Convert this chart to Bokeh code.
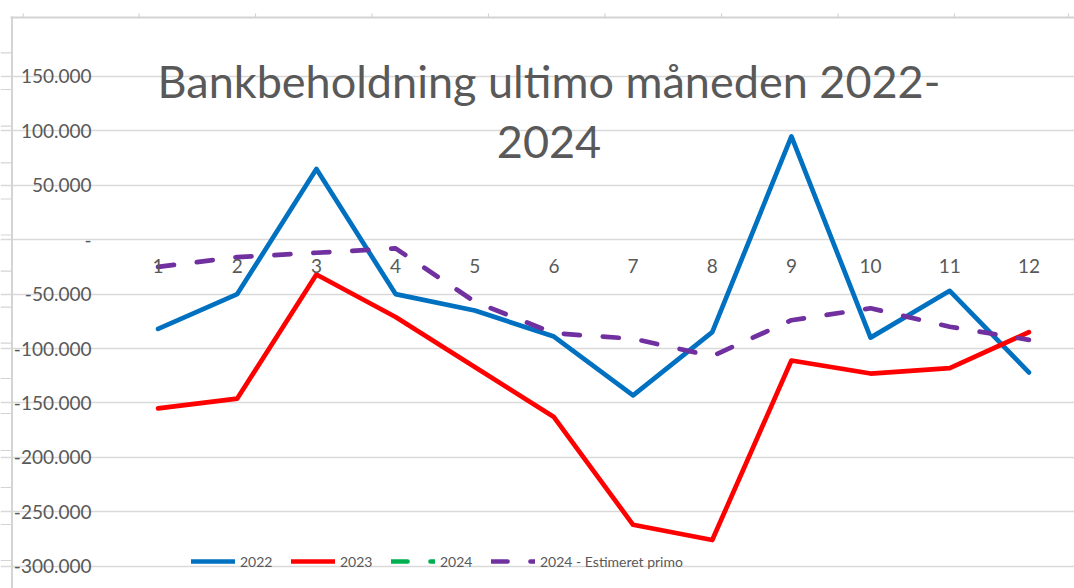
import numpy as np
from bokeh.plotting import figure
from bokeh.models import Range1d, FixedTicker, Legend, LegendItem, Label, BoxAnnotation, LinearAxis
from bokeh.embed import file_html
from bokeh.resources import INLINE

# ---- data ----
months = [1, 2, 3, 4, 5, 6, 7, 8, 9, 10, 11, 12]
month_labels = ["1", "2", "3", "4", "5", "6", "7", "8", "9", "10", "11", "12"]
v2022 = [-82000, -50000, 65000, -50000, -65000, -89000, -143000, -85000, 95000, -90000, -47000, -122000]
v2023 = [-155000, -146000, -32000, -71000, -117000, -163000, -262000, -276000, -111000, -123000, -118000, -85000]
v2024 = [None, None, None, None, None, None, None, None, None, None, None, None]
v2024_est = [-25000, -16000, -12000, -8000, -57000, -86000, -91000, -107000, -74000, -63000, -80000, -92000]
series_names = ["2022", "2023", "2024", "2024 - Estimeret primo"]
y_ticks = [150000, 100000, 50000, 0, -50000, -100000, -150000, -200000, -250000, -300000]
y_tick_labels = ["150.000", "100.000", "50.000", "-", "-50.000", "-100.000", "-150.000",
                 "-200.000", "-250.000", "-300.000"]
title_lines = ["Bankbeholdning ultimo måneden 2022-", "2024"]

TXT = "#595959"
FONT = "Lato"
W, H = 1074, 588

p = figure(width=W, height=H, output_backend="svg", toolbar_location=None,
           x_range=Range1d(-0.9905, 12.5758), y_range=Range1d(-320530, 219810),
           x_axis_location=None, y_axis_location=None,
           min_border_left=0, min_border_right=0, min_border_top=0, min_border_bottom=0)
p.outline_line_color = None

# y axis drawn at the left edge of the category area
ya = LinearAxis(fixed_location=0.5, ticker=FixedTicker(ticks=y_ticks),
                major_label_overrides=dict(zip(y_ticks, y_tick_labels)),
                axis_line_color=None, major_tick_line_color=None, minor_tick_line_color=None,
                major_tick_out=0, major_tick_in=0, major_label_standoff=27,
                major_label_text_font=FONT, major_label_text_font_size="19px",
                major_label_text_color=TXT)
p.add_layout(ya, "left")

# category axis crossing at zero
xa = LinearAxis(fixed_location=0, ticker=FixedTicker(ticks=months),
                major_label_overrides=dict(zip(months, month_labels)),
                axis_line_color=None, major_tick_line_color=None, minor_tick_line_color=None,
                major_tick_out=0, major_tick_in=0, major_label_standoff=19,
                major_label_text_font=FONT, major_label_text_font_size="19px",
                major_label_text_color=TXT)
p.add_layout(xa, "below")

p.xgrid.visible = False
p.ygrid.ticker = FixedTicker(ticks=y_ticks)
p.ygrid.bounds = (0.5, 12.5)
p.ygrid.grid_line_color = "#d9d9d9"
p.ygrid.grid_line_width = 1.4

# spreadsheet cell borders around the chart
def box(l, r, t, b):
    p.add_layout(BoxAnnotation(left=l, right=r, top=H - t, bottom=H - b,
                               left_units="screen", right_units="screen", top_units="screen",
                               bottom_units="screen", fill_color="#d4d4d4", fill_alpha=1,
                               line_color=None, level="underlay"))

box(10.5, 12.5, 16, H)
box(10, W, 16, 18)
for cx in [22.7, 138.5, 255, 371.5, 488, 604.5, 721, 837.5, 954, 1068]:
    box(cx - 0.6, cx + 0.6, 13, 17)
for cy in [52.3, 89, 125.7, 162.3, 198.5, 234.5, 270.7, 306.7, 342.7, 378, 413, 450, 487, 524, 560]:
    box(0, 10.5, cy - 0.6, cy + 0.6)

y24 = np.array(v2024, dtype=float)
r22 = p.line(months, v2022, line_color="#0070C0", line_width=4.7, line_join="round", line_cap="round")
r23 = p.line(months, v2023, line_color="#FF0000", line_width=4.7, line_join="round", line_cap="round")
r24 = p.line(months, y24, line_color="#00B050", line_width=4.7, line_dash="16 23",
             line_join="round", line_cap="round")
rest = p.line(months, v2024_est, line_color="#7030A0", line_width=4.7, line_dash="16 23",
              line_join="round", line_cap="round")

legend = Legend(items=[LegendItem(label=n, renderers=[r]) for n, r in zip(series_names, [r22, r23, r24, rest])],
                orientation="horizontal", location=(191, 17), glyph_width=44, glyph_height=20,
                label_standoff=5, label_width=50, label_height=20, spacing=1, padding=0, margin=0,
                border_line_color=None, background_fill_alpha=0,
                label_text_font=FONT, label_text_font_size="14px",
                label_text_color=TXT)
p.add_layout(legend)

p.add_layout(Label(x=548.5, y=H - 80, x_units="screen", y_units="screen", text=title_lines[0],
                   text_align="center", text_baseline="middle", text_font=FONT,
                   text_font_size="45px", text_color=TXT))
p.add_layout(Label(x=548.5, y=H - 141, x_units="screen", y_units="screen", text=title_lines[1],
                   text_align="center", text_baseline="middle", text_font=FONT,
                   text_font_size="45px", text_color=TXT))

open("out.html", "w").write(file_html(p, INLINE))
